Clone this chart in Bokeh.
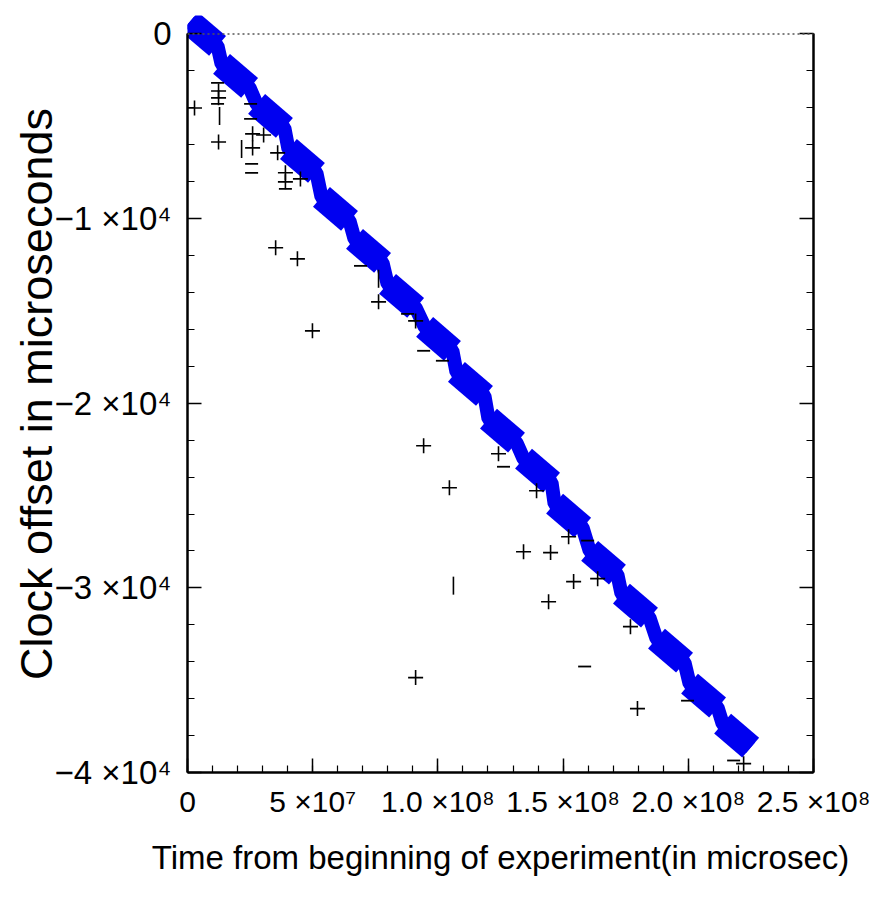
import math
import numpy as np
from bokeh.plotting import figure
from bokeh.models import FixedTicker, LinearAxis, Span, Range1d, ColumnDataSource
from bokeh.embed import file_html
from bokeh.resources import INLINE

# ---- data ----
# Dense blue clusters of measurements: each cluster from (t0, off0) to (t1, off1)
cluster_t0 = [0.8e6, 13.6e6, 27.6e6, 40.3e6, 53.5e6, 66.7e6, 79.9e6, 94.7e6, 107.4e6,
              120.2e6, 134.2e6, 146.6e6, 160.6e6, 173.3e6, 187.3e6, 200.5e6, 213.7e6]
cluster_off0 = [650, -1620, -3790, -6230, -8820, -11100, -13530, -15860, -18300,
                -20840, -23000, -25440, -27990, -30310, -32750, -35190, -37350]
cluster_t1 = [12.0e6, 24.8e6, 38.7e6, 51.5e6, 64.7e6, 77.9e6, 91.1e6, 105.8e6, 118.6e6,
              131.4e6, 145.4e6, 157.8e6, 171.7e6, 184.5e6, 198.5e6, 211.7e6, 224.9e6]
cluster_off1 = [-650, -2920, -5090, -7520, -10120, -12400, -14830, -17160, -19600,
                -22140, -24300, -26740, -29280, -31610, -34050, -36480, -38650]

# Black outlier samples ("+" marks)
plus_t = [2.8e6, 12.4e6, 12.4e6, 12.4e6, 26.0e6, 26.0e6, 30.4e6, 36.0e6, 39.1e6, 39.1e6,
          45.1e6, 35.2e6, 43.9e6, 49.9e6, 76.3e6, 91.1e6, 94.3e6, 104.6e6, 124.2e6, 134.2e6,
          145.0e6, 139.4e6, 152.2e6, 154.2e6, 144.2e6, 163.8e6, 176.9e6, 91.1e6, 179.7e6, 222.1e6]
plus_off = [-4010, -3090, -3460, -5850, -5410, -6170, -5470, -6440, -7520, -8010,
            -7850, -11580, -12180, -16080, -14510, -15540, -22300, -24580, -22740, -28040,
            -28090, -24740, -27230, -29660, -30750, -29500, -32100, -34860, -36540, -39520]
# Partial marks ("-" shapes)
dash_t = [12.0e6, 12.0e6, 25.2e6, 25.2e6, 25.6e6, 25.6e6, 39.1e6, 69.1e6, 87.9e6, 94.3e6,
          101.8e6, 126.2e6, 159.8e6, 158.6e6, 199.7e6, 218.1e6]
dash_off = [-2650, -3790, -3790, -4600, -7040, -7520, -8390, -12560, -15160, -17160,
            -17700, -23440, -27440, -34260, -36110, -39350]
# Partial marks ("|" shapes)
bar_t = [12.8e6, 21.6e6, 76.3e6, 106.2e6]
bar_off = [-4440, -6230, -13260, -29880]

# Axes
x_ticks = [0, 5e7, 1e8, 1.5e8, 2e8, 2.5e8]
x_tick_labels = ["0", "5 \u00d710\u2077", "1.0 \u00d710\u2078", "1.5 \u00d710\u2078",
                 "2.0 \u00d710\u2078", "2.5 \u00d710\u2078"]
y_ticks = [0, -1e4, -2e4, -3e4, -4e4]
y_tick_labels = ["0", "\u22121 \u00d710\u2074", "\u22122 \u00d710\u2074",
                 "\u22123 \u00d710\u2074", "\u22124 \u00d710\u2074"]
x_minor = [i * 1e7 for i in range(0, 26)]
y_minor = [-i * 2000 for i in range(0, 21)]

FONT = "Liberation Sans"

p = figure(width=890, height=900, output_backend="svg", toolbar_location=None,
           x_range=Range1d(0, 2.5e8), y_range=Range1d(-40000, 1000),
           min_border_left=187, min_border_right=77, min_border_top=15,
           min_border_bottom=128)
p.outline_line_color = None
p.grid.visible = False
p.background_fill_color = "white"
p.border_fill_color = "white"

# zero reference line
p.add_layout(Span(location=0, dimension="width", line_color="#555555",
                  line_dash="2 3", line_width=1.5))

# blue clusters
conn_x = []
conn_y = []
for a, b, c, d in zip(cluster_t0, cluster_off0, cluster_t1, cluster_off1):
    conn_x += [a, c]
    conn_y += [b, d]
p.line(conn_x, conn_y, line_color="#0000f0", line_width=14)
p.segment(cluster_t0, cluster_off0, cluster_t1, cluster_off1,
          line_color="#0000f0", line_width=26, line_cap="butt")

# black outliers
p.scatter(plus_t, plus_off, marker="cross", size=15, line_width=1.6, line_color="black")
p.scatter(dash_t, dash_off, marker="dash", size=13, line_width=1.8, line_color="black")
p.scatter(bar_t, bar_off, marker="dash", angle=math.pi / 2, size=18, line_width=1.6,
          line_color="black")

# axes
xa = p.xaxis[0]
ya = p.yaxis[0]
xa.ticker = FixedTicker(ticks=x_ticks, minor_ticks=x_minor)
ya.ticker = FixedTicker(ticks=y_ticks, minor_ticks=y_minor)
xa.major_label_overrides = {t: s for t, s in zip(x_ticks, x_tick_labels)}
ya.major_label_overrides = {t: s for t, s in zip(y_ticks, y_tick_labels)}
ya.bounds = (-40000, 0)

ra = LinearAxis(ticker=FixedTicker(ticks=y_ticks, minor_ticks=y_minor), bounds=(-40000, 0))
ra.major_label_overrides = {t: "" for t in y_ticks}
p.add_layout(ra, "right")

for ax in (xa, ya, ra):
    ax.axis_line_color = "black"
    ax.axis_line_width = 2.5
    ax.major_tick_in = 14
    ax.major_tick_out = 0
    ax.minor_tick_in = 7
    ax.minor_tick_out = 0
    ax.major_tick_line_color = "black"
    ax.minor_tick_line_color = "black"
    ax.major_tick_line_width = 1.5
    ax.minor_tick_line_width = 1.2
    ax.major_label_text_font = FONT
    ax.major_label_text_color = "black"

ya.major_label_text_font_size = "33px"
xa.major_label_text_font_size = "30px"
xa.major_label_standoff = 12
ya.major_label_standoff = 16

xa.axis_label = "Time from beginning of experiment(in microsec)"
xa.axis_label_text_font = FONT
xa.axis_label_text_font_size = "33px"
xa.axis_label_text_font_style = "normal"
xa.axis_label_text_color = "black"
xa.axis_label_standoff = 18

ya.axis_label = "Clock offset in microseconds"
ya.axis_label_text_font = FONT
ya.axis_label_text_font_size = "45px"
ya.axis_label_text_font_style = "normal"
ya.axis_label_text_color = "black"
ya.axis_label_standoff = -10

open("out.html", "w").write(file_html(p, INLINE))
